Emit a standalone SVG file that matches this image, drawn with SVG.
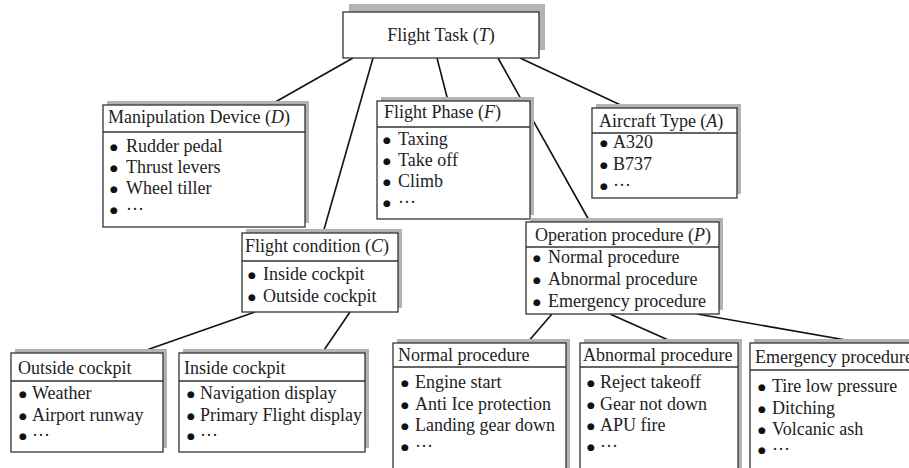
<svg xmlns="http://www.w3.org/2000/svg" width="909" height="468" viewBox="0 0 909 468">
<style>
text{font-family:"Liberation Serif","Times New Roman",serif;font-size:18px;fill:#222}
.i{font-style:italic}
.b{font-family:"DejaVu Sans",sans-serif;font-size:9px;fill:#111}
.box{fill:#fff;stroke:#333;stroke-width:1.3}
.sh{fill:#b3b3b3}
.hd{stroke:#333;stroke-width:1.3}
.cn line{stroke:#111;stroke-width:1.6}
</style>
<rect width="909" height="468" fill="#fff"/>
<g class="cn" id="connectors">
<line x1="353" y1="58" x2="270" y2="105"/>
<line x1="373" y1="58" x2="323" y2="233"/>
<line x1="437" y1="58" x2="448" y2="101"/>
<line x1="498" y1="58" x2="590" y2="222"/>
<line x1="520" y1="58" x2="627" y2="108"/>
<line x1="255" y1="312" x2="138" y2="353"/>
<line x1="350" y1="312" x2="322" y2="353"/>
<line x1="552" y1="314" x2="527" y2="343"/>
<line x1="610" y1="314" x2="675" y2="343"/>
<line x1="697" y1="314" x2="863" y2="343"/>
</g>
<g id="task">
<rect class="sh" x="349" y="4" width="196" height="46"/>
<rect class="box" x="343" y="12" width="196" height="46" stroke-width="2"/>
<text x="441" y="41" text-anchor="middle">Flight Task (<tspan class="i">T</tspan>)</text>
</g>
<g id="device">
<rect class="sh" x="107" y="101" width="202" height="122"/>
<rect class="box" x="103" y="105" width="202" height="122"/>
<line class="hd" x1="103" y1="132" x2="305" y2="132"/>
<text x="108" y="123">Manipulation Device (<tspan class="i">D</tspan>)</text>
<text y="152"><tspan class="b" x="110" dy="-2">●</tspan><tspan x="126" dy="2">Rudder pedal</tspan></text>
<text y="173"><tspan class="b" x="110" dy="-2">●</tspan><tspan x="126" dy="2">Thrust levers</tspan></text>
<text y="194"><tspan class="b" x="110" dy="-2">●</tspan><tspan x="126" dy="2">Wheel tiller</tspan></text>
<text y="215"><tspan class="b" x="110" dy="-2">●</tspan><tspan x="126" dy="2">···</tspan></text>
</g>
<g id="phase">
<rect class="sh" x="381" y="97" width="153" height="118"/>
<rect class="box" x="377" y="101" width="153" height="118"/>
<line class="hd" x1="377" y1="127" x2="530" y2="127"/>
<text x="384" y="118">Flight Phase (<tspan class="i">F</tspan>)</text>
<text y="145"><tspan class="b" x="383" dy="-2">●</tspan><tspan x="398" dy="2">Taxing</tspan></text>
<text y="166"><tspan class="b" x="383" dy="-2">●</tspan><tspan x="398" dy="2">Take off</tspan></text>
<text y="187"><tspan class="b" x="383" dy="-2">●</tspan><tspan x="398" dy="2">Climb</tspan></text>
<text y="208"><tspan class="b" x="383" dy="-2">●</tspan><tspan x="398" dy="2">···</tspan></text>
</g>
<g id="aircraft">
<rect class="sh" x="596" y="104" width="145" height="90"/>
<rect class="box" x="592" y="108" width="145" height="90"/>
<line class="hd" x1="592" y1="133" x2="737" y2="133"/>
<text x="599" y="127">Aircraft Type (<tspan class="i">A</tspan>)</text>
<text y="148"><tspan class="b" x="600" dy="-2">●</tspan><tspan x="613" dy="2">A320</tspan></text>
<text y="170"><tspan class="b" x="600" dy="-2">●</tspan><tspan x="613" dy="2">B737</tspan></text>
<text y="191"><tspan class="b" x="600" dy="-2">●</tspan><tspan x="613" dy="2">···</tspan></text>
</g>
<g id="condition">
<rect class="sh" x="246" y="229" width="156" height="79"/>
<rect class="box" x="242" y="233" width="156" height="79"/>
<line class="hd" x1="242" y1="261" x2="398" y2="261"/>
<text x="245" y="252">Flight condition (<tspan class="i">C</tspan>)</text>
<text y="280"><tspan class="b" x="248" dy="-2">●</tspan><tspan x="263" dy="2">Inside cockpit</tspan></text>
<text y="302"><tspan class="b" x="248" dy="-2">●</tspan><tspan x="263" dy="2">Outside cockpit</tspan></text>
</g>
<g id="operation">
<rect class="sh" x="530" y="218" width="193" height="92"/>
<rect class="box" x="526" y="222" width="193" height="92"/>
<line class="hd" x1="526" y1="247" x2="719" y2="247"/>
<text x="535" y="241">Operation procedure (<tspan class="i">P</tspan>)</text>
<text y="263"><tspan class="b" x="533" dy="-2">●</tspan><tspan x="548" dy="2">Normal procedure</tspan></text>
<text y="285"><tspan class="b" x="533" dy="-2">●</tspan><tspan x="548" dy="2">Abnormal procedure</tspan></text>
<text y="307"><tspan class="b" x="533" dy="-2">●</tspan><tspan x="548" dy="2">Emergency procedure</tspan></text>
</g>
<g id="outside">
<rect class="sh" x="15" y="349" width="152" height="99"/>
<rect class="box" x="11" y="353" width="152" height="99"/>
<line class="hd" x1="11" y1="381" x2="163" y2="381"/>
<text x="18" y="374">Outside cockpit</text>
<text y="399"><tspan class="b" x="19" dy="-2">●</tspan><tspan x="32" dy="2">Weather</tspan></text>
<text y="421"><tspan class="b" x="19" dy="-2">●</tspan><tspan x="32" dy="2">Airport runway</tspan></text>
<text y="441"><tspan class="b" x="19" dy="-2">●</tspan><tspan x="32" dy="2">···</tspan></text>
</g>
<g id="inside">
<rect class="sh" x="183" y="349" width="186" height="99"/>
<rect class="box" x="179" y="353" width="186" height="99"/>
<line class="hd" x1="179" y1="381" x2="365" y2="381"/>
<text x="184" y="374">Inside cockpit</text>
<text y="399"><tspan class="b" x="187" dy="-2">●</tspan><tspan x="200" dy="2">Navigation display</tspan></text>
<text y="421"><tspan class="b" x="187" dy="-2">●</tspan><tspan x="200" dy="2">Primary Flight display</tspan></text>
<text y="441"><tspan class="b" x="187" dy="-2">●</tspan><tspan x="200" dy="2">···</tspan></text>
</g>
<g id="normal">
<rect class="sh" x="397" y="339" width="173" height="140"/>
<rect class="box" x="393" y="343" width="173" height="140"/>
<line class="hd" x1="393" y1="367" x2="566" y2="367"/>
<text x="398" y="361">Normal procedure</text>
<text y="388"><tspan class="b" x="401" dy="-2">●</tspan><tspan x="415" dy="2">Engine start</tspan></text>
<text y="410"><tspan class="b" x="401" dy="-2">●</tspan><tspan x="415" dy="2">Anti Ice protection</tspan></text>
<text y="431"><tspan class="b" x="401" dy="-2">●</tspan><tspan x="415" dy="2">Landing gear down</tspan></text>
<text y="452"><tspan class="b" x="401" dy="-2">●</tspan><tspan x="415" dy="2">···</tspan></text>
</g>
<g id="abnormal">
<rect class="sh" x="584" y="339" width="158" height="140"/>
<rect class="box" x="580" y="343" width="158" height="140"/>
<line class="hd" x1="580" y1="367" x2="738" y2="367"/>
<text x="583" y="361">Abnormal procedure</text>
<text y="388"><tspan class="b" x="587" dy="-2">●</tspan><tspan x="600" dy="2">Reject takeoff</tspan></text>
<text y="410"><tspan class="b" x="587" dy="-2">●</tspan><tspan x="600" dy="2">Gear not down</tspan></text>
<text y="431"><tspan class="b" x="587" dy="-2">●</tspan><tspan x="600" dy="2">APU fire</tspan></text>
<text y="452"><tspan class="b" x="587" dy="-2">●</tspan><tspan x="600" dy="2">···</tspan></text>
</g>
<g id="emergency">
<rect class="sh" x="754" y="339" width="180" height="140"/>
<rect class="box" x="750" y="343" width="180" height="140"/>
<line class="hd" x1="750" y1="370" x2="930" y2="370"/>
<text x="755" y="363">Emergency procedure</text>
<text y="392"><tspan class="b" x="758" dy="-2">●</tspan><tspan x="772" dy="2">Tire low pressure</tspan></text>
<text y="414"><tspan class="b" x="758" dy="-2">●</tspan><tspan x="772" dy="2">Ditching</tspan></text>
<text y="435"><tspan class="b" x="758" dy="-2">●</tspan><tspan x="772" dy="2">Volcanic ash</tspan></text>
<text y="455"><tspan class="b" x="758" dy="-2">●</tspan><tspan x="772" dy="2">···</tspan></text>
</g>
</svg>
